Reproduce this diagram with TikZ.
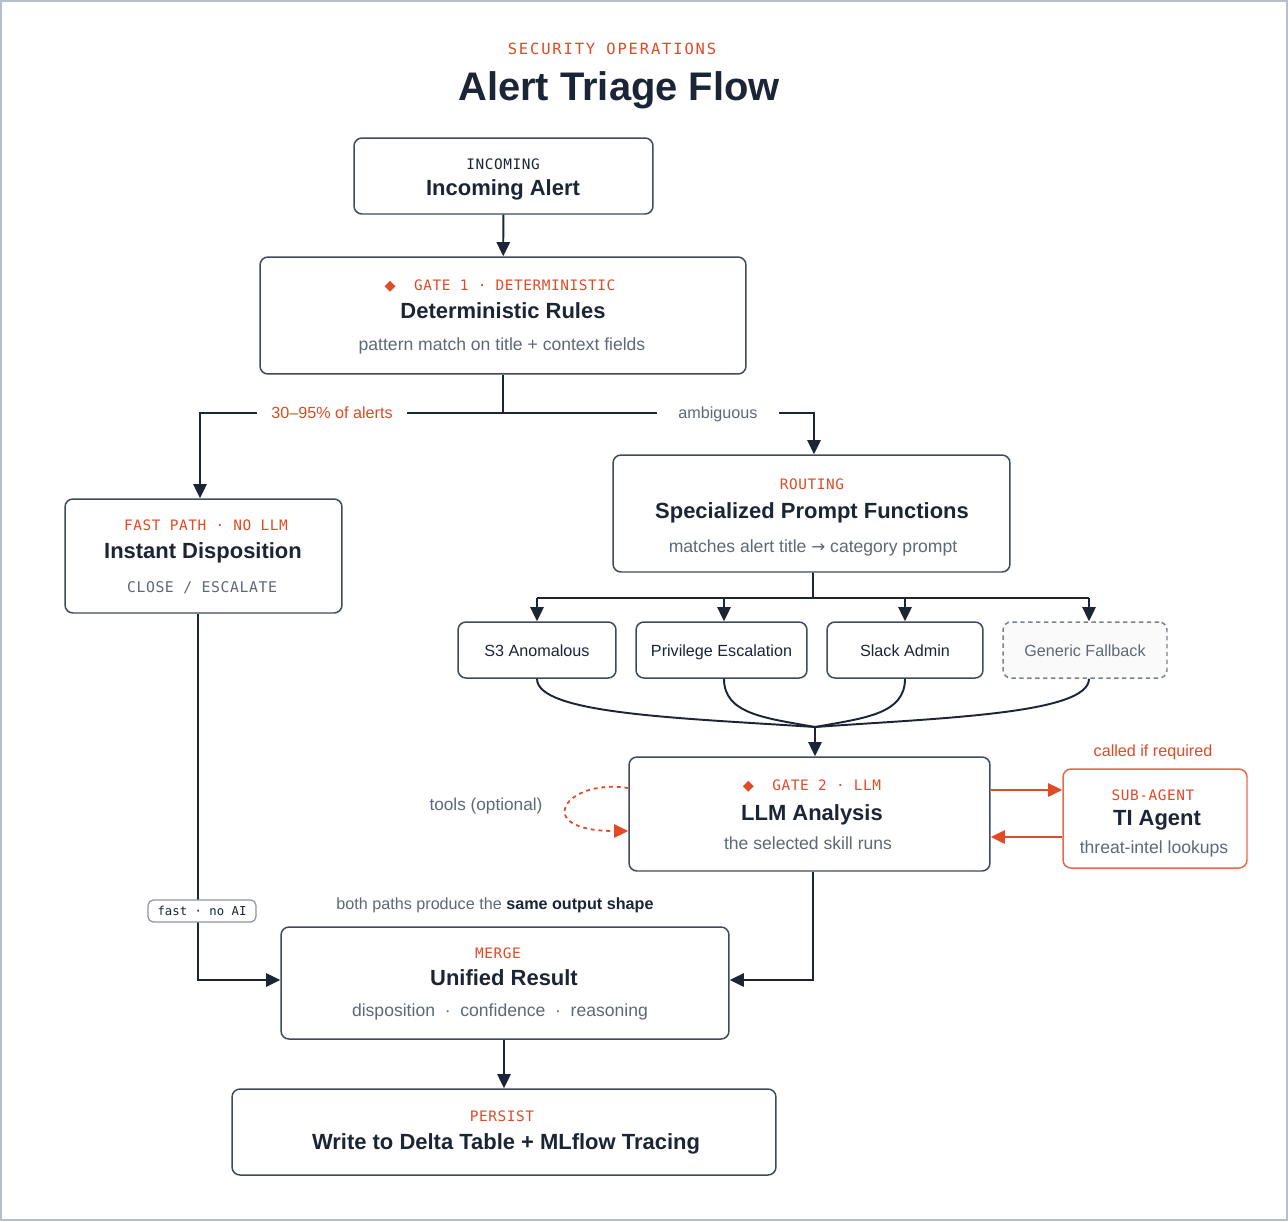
\documentclass[tikz,border=0pt]{standalone}
\usepackage{fontspec}
\setmainfont{Liberation Sans}
\newfontfamily\monof[LetterSpace=4]{DejaVu Sans Mono}
\newfontfamily\monowide[LetterSpace=12]{DejaVu Sans Mono}
\newfontfamily\monoplain{DejaVu Sans Mono}
\newfontfamily\symf{DejaVu Sans}
\usetikzlibrary{arrows.meta}

\definecolor{navy}{HTML}{1B2536}
\definecolor{accent}{HTML}{E04A26}
\definecolor{muted}{HTML}{5F6877}
\definecolor{boxline}{HTML}{3F4A5A}
\definecolor{frameline}{HTML}{B6BECA}
\definecolor{softred}{HTML}{E8694A}
\definecolor{dashgray}{HTML}{7A8290}

\tikzset{
  box/.style={draw=boxline, line width=0.85pt, rounded corners=4.5pt, fill=white, inner sep=0pt},
  skill/.style={box, minimum height=1.12cm, font=\fontsize{9.2}{11}\selectfont, text=navy,
    text height=0.7em, text depth=0pt},
  tag/.style={font=\monof\fontsize{8.2}{10}\selectfont, text=accent, text height=0.7em, text depth=0pt},
  head/.style={font=\bfseries\fontsize{12.5}{15}\selectfont, text=navy, text height=0.7em, text depth=0pt},
  sub/.style={font=\fontsize{10}{12}\selectfont, text=muted, text height=0.6em, text depth=0pt},
  elabel/.style={font=\fontsize{9.2}{11}\selectfont, text=muted, text height=0.6em, text depth=0pt},
  line/.style={draw=navy, line width=1.1pt},
  arr/.style={line, -{Triangle[length=8pt, width=7.5pt]}},
  redarr/.style={draw=accent, line width=1.1pt, -{Triangle[length=8pt, width=7.5pt]}},
  toolloop/.style={draw=accent, line width=1pt, dash pattern=on 2.2pt off 2.2pt,
    -{Triangle[length=8pt, width=7.5pt]}}
}

\begin{document}
\begin{tikzpicture}[x=0.02cm, y=-0.02cm]
\useasboundingbox (0,0) rectangle (1288,1221);
\draw[draw=frameline, line width=1pt, fill=white] (1,1) rectangle (1287,1220);

% heading
\node[font=\monowide\fontsize{8.8}{10}\selectfont, text=accent] (kicker) at (612,49) {SECURITY OPERATIONS};
\node[font=\bfseries\fontsize{22.7}{26}\selectfont, text=navy] (title) at (619,90) {Alert Triage Flow};

% boxes
\node[box, minimum width=5.98cm, minimum height=1.52cm] (inc) at (503.5,176) {};
\node[box, minimum width=9.72cm, minimum height=2.34cm] (det) at (503,315.5) {};
\node[box, minimum width=5.54cm, minimum height=2.28cm] (fast) at (203.5,556) {};
\node[box, minimum width=7.94cm, minimum height=2.34cm] (route) at (811.5,513.5) {};
\node[skill, minimum width=3.16cm] (s3) at (537,650) {S3 Anomalous};
\node[skill, minimum width=3.42cm] (priv) at (721.5,650) {Privilege Escalation};
\node[skill, minimum width=3.12cm] (slack) at (905,650) {Slack Admin};
\node[skill, minimum width=3.28cm, draw=dashgray, dash pattern=on 2.5pt off 2pt, text=muted, fill=gray!4] (gen) at (1085,650) {Generic Fallback};
\node[box, minimum width=7.22cm, minimum height=2.28cm] (llm) at (809.5,814) {};
\node[box, draw=softred, minimum width=3.68cm, minimum height=1.98cm] (ti) at (1155,818.5) {};
\node[box, minimum width=8.96cm, minimum height=2.24cm] (merge) at (505,983) {};
\node[box, minimum width=10.88cm, minimum height=1.72cm] (persist) at (504,1132) {};

% box texts
\node[tag, text=navy] (incT) at (503,163) {INCOMING};
\node[head] (incH) at (503,189) {Incoming Alert};
\node[tag] (detT) at (500,284) {{\symf ◆}\ \ GATE 1 · DETERMINISTIC};
\node[head] (detH) at (503,312) {Deterministic Rules};
\node[sub] (detS) at (502,345) {pattern match on title + context fields};
\node[tag] (fastT) at (206,524) {FAST PATH · NO LLM};
\node[head] (fastH) at (203,552) {Instant Disposition};
\node[tag, text=muted, font=\monof\fontsize{8.4}{10}\selectfont] (fastS) at (202,586) {CLOSE / ESCALATE};
\node[tag] (routeT) at (812,483) {ROUTING};
\node[head] (routeH) at (812,512) {Specialized Prompt Functions};
\node[sub] (routeS) at (813,547) {matches alert title {\symf\fontsize{9.5}{10}\selectfont →} category prompt};
\node[tag] (llmT) at (812,784) {{\symf ◆}\ \ GATE 2 · LLM};
\node[head] (llmH) at (812,814) {LLM Analysis};
\node[sub] (llmS) at (808,844) {the selected skill runs};
\node[tag] (tiT) at (1153,794) {SUB-AGENT};
\node[head] (tiH) at (1157,819) {TI Agent};
\node[sub] (tiS) at (1154,848) {threat-intel lookups};
\node[tag] (mergeT) at (498,952) {MERGE};
\node[head] (mergeH) at (504,979) {Unified Result};
\node[sub] (mergeS) at (500,1011) {disposition \ · \ confidence \ · \ reasoning};
\node[tag] (persT) at (502,1115) {PERSIST};
\node[head] (persH) at (506,1143) {Write to Delta Table + MLflow Tracing};

% connectors
\draw[arr] (inc) -- (det);

\coordinate (split) at (503,413);
\draw[line] (det.south) -- (split);
\draw[arr] (split) -| ([xshift=-0.07cm]fast.north);
\draw[arr] (split) -| ([xshift=0.05cm]route.north);
\node[elabel, text=accent, fill=white, inner xsep=8pt] (share) at (332,413) {30–95\% of alerts};
\node[elabel, fill=white, inner xsep=12pt] (amb) at (718,413) {ambiguous};

\coordinate (fan) at (813,598);
\draw[line] ([xshift=0.03cm]route.south) -- (fan);
\draw[line] (537,598) -- (1089,598);
\draw[arr] (s3 |- fan) -- (s3.north);
\draw[arr] ([xshift=0.05cm]priv.north |- fan) -- ([xshift=0.05cm]priv.north);
\draw[arr] (slack |- fan) -- (slack.north);
\draw[arr] ([xshift=0.08cm]gen.north |- fan) -- ([xshift=0.08cm]gen.north);

\coordinate (join) at (815,727);
\draw[line] (s3.south) .. controls (537,714) and (680,718) .. (join);
\draw[line] ([xshift=0.05cm]priv.south) .. controls (724,714) and (765,718) .. (join);
\draw[line] (slack.south) .. controls (905,714) and (865,718) .. (join);
\draw[line] ([xshift=0.08cm]gen.south) .. controls (1089,714) and (940,718) .. (join);
\draw[arr] (join) -- (join |- llm.north);

\draw[toolloop] ([yshift=0.52cm]llm.west) .. controls (565,778) and (530,831) .. ([yshift=-0.34cm]llm.west);
\node[elabel, font=\fontsize{9.8}{12}\selectfont] (tools) at (486,805) {tools (optional)};

\draw[redarr] ([yshift=0.48cm]llm.east) -- ([yshift=0.48cm]llm.east -| ti.west);
\draw[redarr] ([yshift=-0.46cm]llm.east -| ti.west) -- ([yshift=-0.46cm]llm.east);
\node[elabel, text=accent] (called) at (1153,751) {called if required};

\draw[arr] ([xshift=0.07cm]llm.south) |- ([yshift=0.06cm]merge.east);
\draw[arr] ([xshift=-0.11cm]fast.south) |- ([yshift=0.06cm]merge.west);
\node[draw=muted!70, line width=0.7pt, rounded corners=3pt, fill=white, inner sep=0pt,
  minimum width=2.16cm, minimum height=0.44cm, font=\monoplain\fontsize{7}{8}\selectfont, text=navy] (nolbl) at (202,911) {fast · no AI};
\node[elabel] (both) at (495,904) {both paths produce the {\bfseries\color{navy}same output shape}};

\draw[arr] ([xshift=-0.02cm]merge.south) -- ([xshift=-0.02cm]merge.south |- persist.north);
\end{tikzpicture}
\end{document}
